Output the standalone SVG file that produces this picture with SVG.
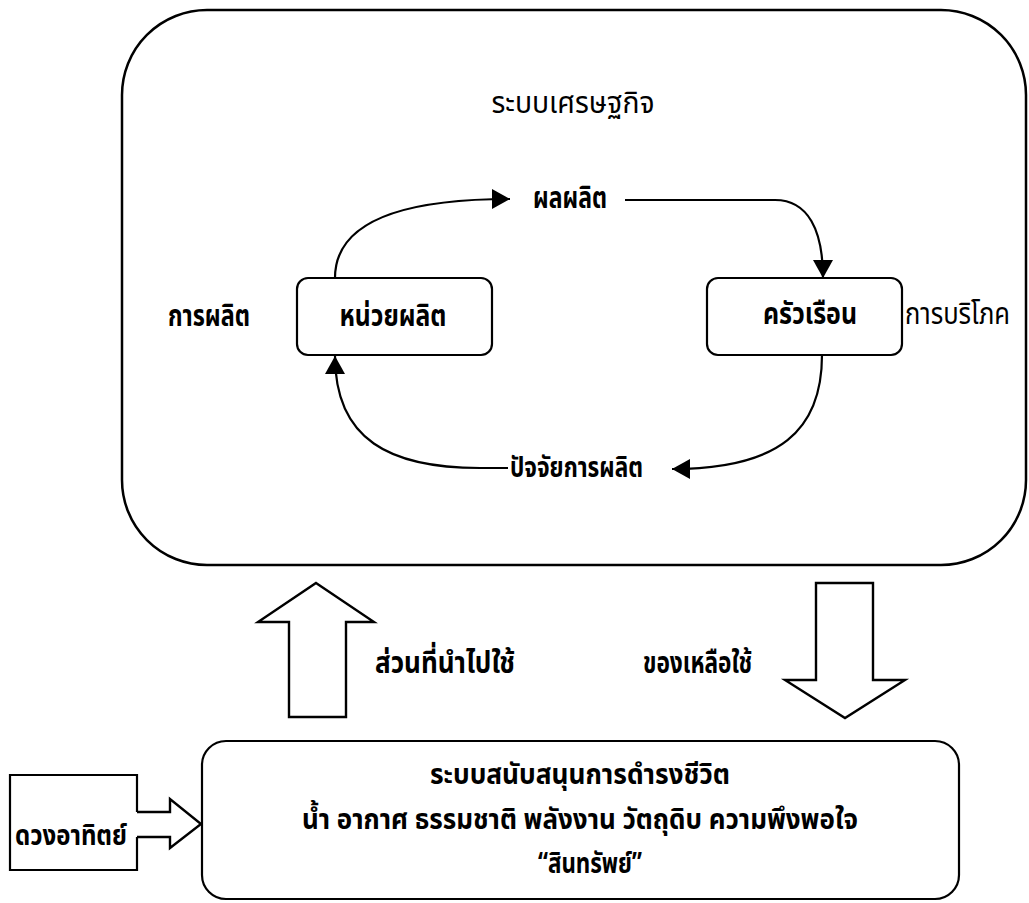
<svg xmlns="http://www.w3.org/2000/svg" width="1029" height="903" viewBox="0 0 1029 903">
<style>
  .frame{fill:none;stroke:#000;stroke-width:2.5}
  .box{fill:#fff;stroke:#000;stroke-width:2.2}
  .link{fill:none;stroke:#000;stroke-width:2.2}
  .block{fill:#fff;stroke:#000;stroke-width:2.4;stroke-linejoin:miter}
  text{font-family:"Noto Sans Thai","Noto Sans","DejaVu Sans",sans-serif;font-size:30px;fill:#000}
  .b{font-weight:bold}
  .m{text-anchor:middle}
  .s{font-size:28px}
</style>
<defs>
  <marker id="ah" viewBox="0 0 18 20" refX="18" refY="10" markerWidth="18" markerHeight="20" markerUnits="userSpaceOnUse" orient="auto">
    <path d="M0,0 L18,10 L0,20 Z" fill="#000"/>
  </marker>
</defs>
<rect width="1029" height="903" fill="#fff"/>

<g id="economic-system">
  <rect class="frame" x="122" y="10" width="904" height="555" rx="85" ry="85"/>
  <text class="m" x="573" y="113" textLength="163" lengthAdjust="spacingAndGlyphs">ระบบเศรษฐกิจ</text>
</g>

<g id="producer">
  <rect class="box" x="297" y="278" width="195" height="77" rx="11"/>
  <text class="b m" x="393" y="326" textLength="107" lengthAdjust="spacingAndGlyphs">หน่วยผลิต</text>
</g>
<g id="production-label">
  <text class="b m" x="209" y="326" textLength="82" lengthAdjust="spacingAndGlyphs">การผลิต</text>
</g>

<g id="household">
  <rect class="box" x="707" y="278" width="195" height="77" rx="11"/>
  <text class="b m" x="810" y="324" textLength="94" lengthAdjust="spacingAndGlyphs">ครัวเรือน</text>
</g>
<g id="consumption-label">
  <text x="905" y="324" textLength="105" lengthAdjust="spacingAndGlyphs">การบริโภค</text>
</g>

<g id="output-label">
  <text class="b m" x="570" y="208" textLength="74" lengthAdjust="spacingAndGlyphs">ผลผลิต</text>
</g>
<g id="factor-label">
  <text class="b s" x="510" y="477" textLength="133" lengthAdjust="spacingAndGlyphs">ปัจจัยการผลิต</text>
</g>

<g id="used-label">
  <text class="b" x="375" y="673" textLength="140" lengthAdjust="spacingAndGlyphs">ส่วนที่นำไปใช้</text>
</g>
<g id="waste-label">
  <text class="b" x="643" y="673" textLength="109" lengthAdjust="spacingAndGlyphs">ของเหลือใช้</text>
</g>

<g id="life-support">
  <rect class="box" x="202" y="741" width="757" height="158" rx="24"/>
  <text class="b m s" x="580" y="784" textLength="300" lengthAdjust="spacingAndGlyphs">ระบบสนับสนุนการดำรงชีวิต</text>
  <text class="b m s" x="580" y="829" textLength="556" lengthAdjust="spacingAndGlyphs">น้ำ อากาศ ธรรมชาติ พลังงาน วัตถุดิบ ความพึงพอใจ</text>
  <text class="b m s" x="590" y="873" textLength="104" lengthAdjust="spacingAndGlyphs">“สินทรัพย์”</text>
</g>

<g id="sun">
  <path class="frame" style="stroke-width:2.2" d="M137,812 L137,775 L10,775 L10,870 L137,870 L137,837"/>
  <text class="b s" x="15" y="845" textLength="112" lengthAdjust="spacingAndGlyphs">ดวงอาทิตย์</text>
</g>

<g id="connectors">
  <path class="link" marker-end="url(#ah)" d="M335,278 C335,215 420,199 510,199"/>
  <path class="link" marker-end="url(#ah)" d="M625,200 L775,200 C808,200 823,230 823,278"/>
  <path class="link" marker-end="url(#ah)" d="M822,355 C822,430 780,469 672,469"/>
  <path class="link" marker-end="url(#ah)" d="M508,468 L480,468 C390,468 335,440 335,356"/>
  <polygon class="block" points="316,583 374,622 346,622 346,717 289,717 289,622 258,622"/>
  <polygon class="block" points="816,583 873,583 873,680 905,680 845,718 785,680 816,680"/>
  <path class="block" d="M137,812 L170,812 L170,799 L201,824 L170,848 L170,837 L137,837"/>
</g>
</svg>
